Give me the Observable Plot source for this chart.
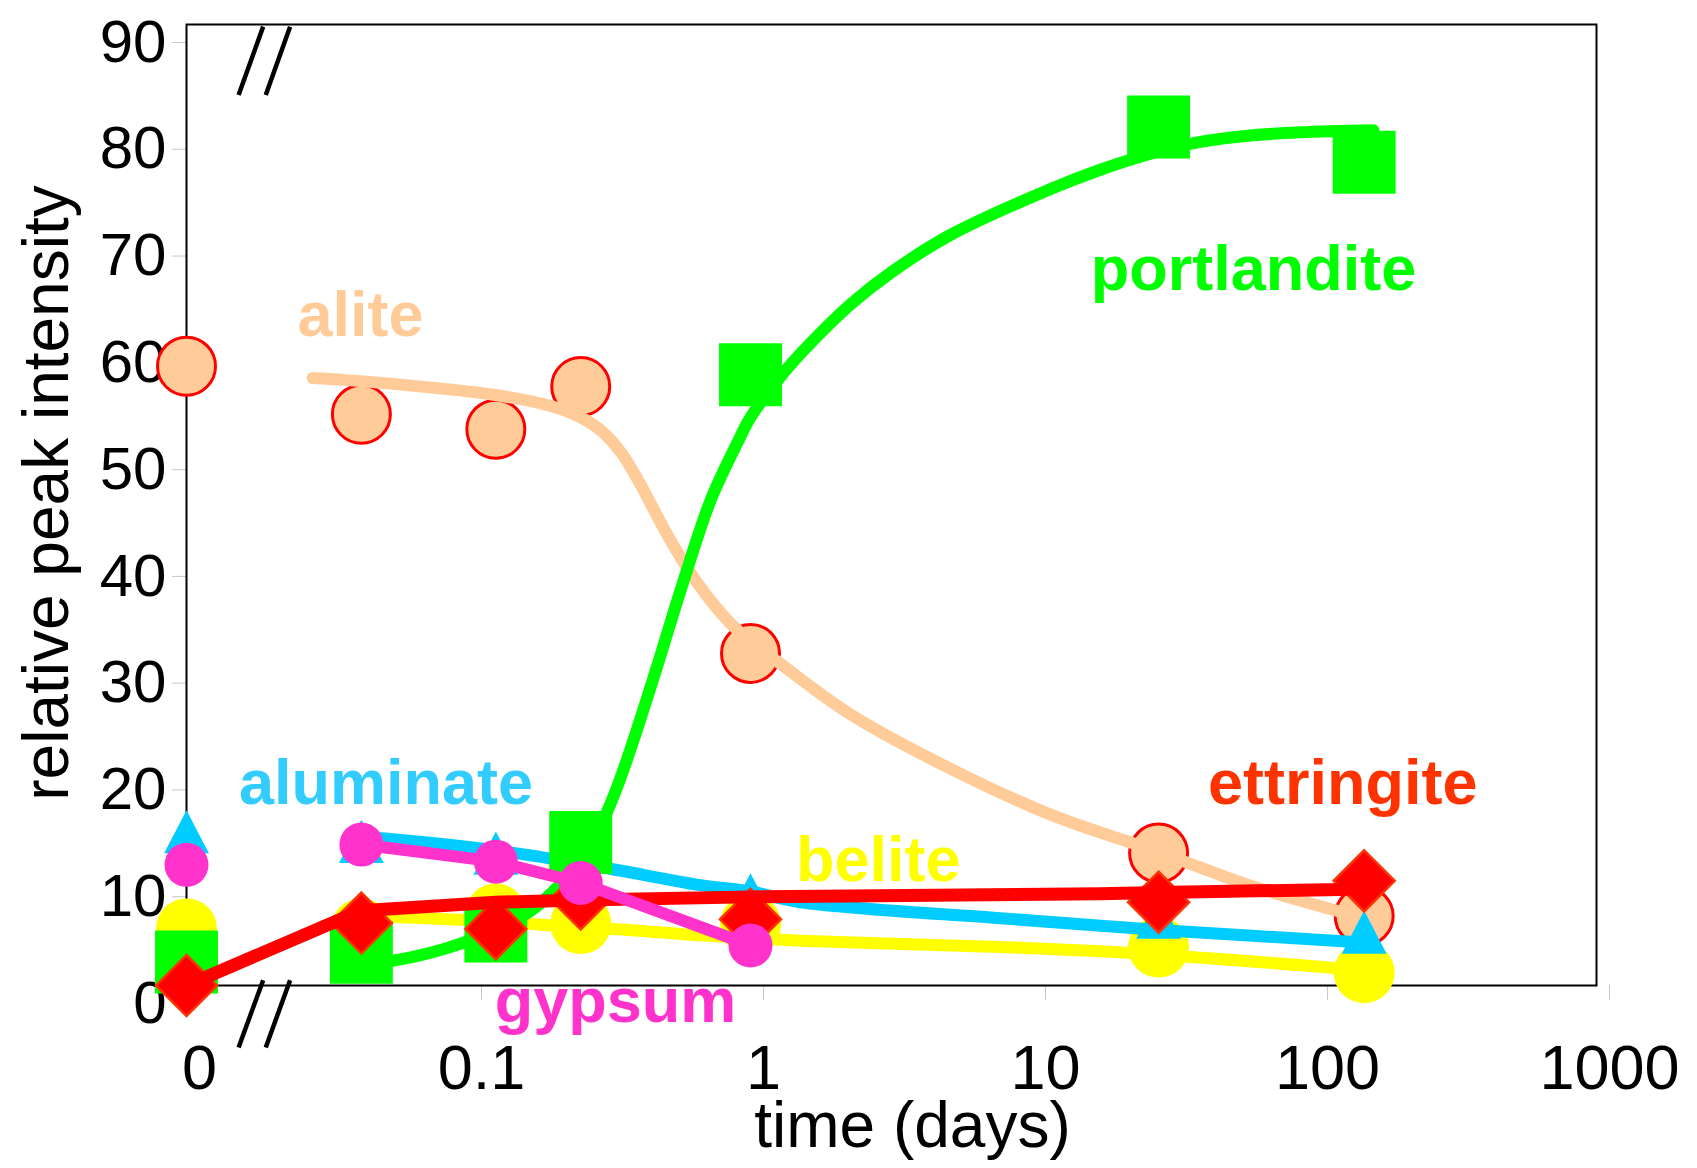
<!DOCTYPE html>
<html><head><meta charset="utf-8">
<script src="https://cdn.jsdelivr.net/npm/d3@7"></script>
<script src="https://cdn.jsdelivr.net/npm/@observablehq/plot@0.6"></script>
<style>html,body{margin:0;padding:0;background:#fff;} #chart{width:1697px;height:1168px;}</style>
</head><body><div id="chart"></div>
<script>
// ---------- data (time in days; 0 is drawn at the broken-axis origin) ----------
const sampleTimes = [0, 0.0417, 0.125, 0.25, 1, 28, 150];
const aliteValues       = [58.0, 53.5, 52.1, 56.1, 31.1, 12.4, 6.5];
const portlanditeValues = [2.2, 3.1, 5.1, 13.4, 57.2, 80.4, 77.1];
const aluminateValues   = [14.4, 13.5, 12.4, null, 8.5, 6.4, 5.0];
const beliteValues      = [5.3, 5.3, 6.7, 5.8, 5.7, 3.6, 1.2];
const ettringiteValues  = [0, 5.85, 5.3, 8.1, 6.2, 7.8, 9.8];
const gypsumValues      = [11.3, 13.2, 11.6, 9.6, 3.75, null, null];

// fitted trend curves
const aliteFitTimes  = [0.028, 0.0414, 0.1247, 0.2, 0.25, 0.3, 0.35, 0.4, 0.5, 0.6, 0.7, 0.85, 1.0, 1.25, 2.26, 5.12, 11.6, 28, 60, 150];
const aliteFitValues = [56.9, 56.6, 55.3, 54.2, 53.2, 51.8, 49.8, 47.3, 42.5, 39.0, 36.5, 33.9, 32.2, 30.3, 25.4, 20.3, 16.0, 12.5, 9.3, 6.3];
const portlanditeFitTimes  = [0.0414, 0.0537, 0.0955, 0.162, 0.1995, 0.251, 0.302, 0.339, 0.385, 0.468, 0.565, 0.721, 0.897, 1.0, 1.276, 1.585, 2.265, 3.16, 5.12, 11.6, 17.4, 26.2, 39.4, 59.3, 89.1, 161.8];
const portlanditeFitValues = [2.0, 2.3, 4.0, 6.8, 8.8, 11.8, 15.6, 18.8, 23.0, 30.0, 37.0, 45.4, 50.8, 53.2, 57.0, 59.8, 63.8, 66.8, 70.3, 74.6, 76.4, 77.9, 79.0, 79.6, 79.9, 80.1];
const aluminateFitTimes  = [0.0414, 0.0538, 0.1298, 0.2938, 0.6653, 1.0, 1.504, 7.7, 17.43, 28, 134, 150];
const aluminateFitValues = [13.9, 13.7, 12.6, 11.1, 9.4, 8.8, 7.8, 6.3, 5.6, 5.2, 4.1, 4.0];
const beliteFitTimes  = [0.0414, 0.0574, 0.1619, 0.2, 0.3268, 0.6653, 1.504, 7.7, 17.43, 123.6, 150];
const beliteFitValues = [6.5, 6.4, 5.8, 5.6, 5.3, 4.7, 4.2, 3.6, 3.2, 1.6, 1.4];
const ettringiteFitTimes  = [0, 0.0414, 0.1247, 0.2535, 1.0, 17.43, 28, 123.6, 150];
const ettringiteFitValues = [0, 7.0, 7.8, 8.0, 8.3, 8.6, 8.7, 9.0, 9.1];

// axes
const xTicks = [0, 0.1, 1, 10, 100, 1000];
const xTickLabels = ["0", "0.1", "1", "10", "100", "1000"];
const yTicks = [0, 10, 20, 30, 40, 50, 60, 70, 80, 90];

// series labels
const seriesNames  = ["alite", "portlandite", "aluminate", "belite", "ettringite", "gypsum"];
const seriesColors = ["#FFCC99", "#00FF00", "#33CCFF", "#FFFF00", "#FF3300", "#FF33CC"];
const labelTimes  = [0.0414, 60.8, 0.051, 2.84, 126, 0.332];
const labelValues = [62.7, 67.0, 18.9, 11.7, 18.9, -1.5];

// axis-break marks "//" (data units)
const breakX1 = [0.0153, 0.0191, 0.0153, 0.0191];
const breakX2 = [0.0187, 0.0233, 0.0187, 0.0233];
const breakY1 = [83.4, 83.4, -5.8, -5.8];
const breakY2 = [89.8, 89.8, 0.5, 0.5];

// ---------- helpers ----------
const ORIGIN = 0.01; // where "0" sits on the log axis
const pos = t => (t === 0 ? ORIGIN : t);
const pts = vals => sampleTimes.map((t, i) => ({t: pos(t), v: vals[i]})).filter(d => d.v != null);
const fit = (ts, vs) => ts.map((t, i) => ({t: pos(t), v: vs[i]}));

const triangleSym = {
  draw(ctx, size) {
    const h = Math.sqrt(size), w = h * 0.52;
    ctx.moveTo(0, -h / 2); ctx.lineTo(w, h / 2); ctx.lineTo(-w, h / 2); ctx.closePath();
  }
};

const FONT = "'Liberation Sans', Arial, sans-serif";
const LW = 12;

const labelsData = seriesNames.map((n, i) => ({n, c: seriesColors[i], t: labelTimes[i], v: labelValues[i]}));
const breaks = breakX1.map((x, i) => ({x1: x, x2: breakX2[i], y1: breakY1[i], y2: breakY2[i]}));
const xTickPos = xTicks.map(pos);

const chart = Plot.plot({
  width: 1697, height: 1168,
  marginLeft: 186, marginRight: 101, marginTop: 24, marginBottom: 183,
  style: {fontFamily: FONT, background: "white", overflow: "visible"},
  x: {type: "log", domain: [ORIGIN, 1000]},
  y: {domain: [0, 90]},
  marks: [
    Plot.axisX({ticks: xTickPos, tickFormat: (d) => xTickLabels[xTickPos.indexOf(d)],
      tickSize: 15, tickPadding: 44, fontSize: 63, fontFamily: FONT, stroke: "#c8c8c8", fill: "black", dx: 13, label: null}),
    Plot.axisY({ticks: yTicks, tickSize: 14, tickPadding: 6, fontSize: 60, fontFamily: FONT,
      stroke: "#c8c8c8", fill: "black", dy: 18, label: null}),
    Plot.frame({stroke: "black", strokeWidth: 2}),
    Plot.link(breaks, {x1: "x1", x2: "x2", y1: "y1", y2: "y2", stroke: "black", strokeWidth: 4.5}),

    // alite
    Plot.dot(pts(aliteValues), {x: "t", y: "v", r: 29, fill: "#FFCC99", stroke: "#FF0000", strokeWidth: 3}),
    Plot.line(fit(aliteFitTimes, aliteFitValues), {x: "t", y: "v", stroke: "#FFCC99", strokeWidth: LW, curve: "catmull-rom"}),
    // belite
    Plot.dot(pts(beliteValues), {x: "t", y: "v", r: 30.5, fill: "#FFFF00"}),
    Plot.line(fit(beliteFitTimes, beliteFitValues), {x: "t", y: "v", stroke: "#FFFF00", strokeWidth: LW, curve: "catmull-rom"}),
    // aluminate
    Plot.dot(pts(aluminateValues), {x: "t", y: "v", r: 24.3, symbol: triangleSym, fill: "#00CCFF"}),
    Plot.line(fit(aluminateFitTimes, aluminateFitValues), {x: "t", y: "v", stroke: "#00CCFF", strokeWidth: LW, curve: "catmull-rom"}),
    // portlandite
    Plot.dot(pts(portlanditeValues), {x: "t", y: "v", r: 35.5, symbol: "square", fill: "#00FF00"}),
    Plot.line(fit(portlanditeFitTimes, portlanditeFitValues), {x: "t", y: "v", stroke: "#00FF00", strokeWidth: LW, curve: "catmull-rom"}),
    // ettringite
    Plot.dot(pts(ettringiteValues), {x: "t", y: "v", r: 27.5, symbol: "diamond2", fill: "#FF0000", stroke: "#FF3300", strokeWidth: 2.5}),
    Plot.line(fit(ettringiteFitTimes, ettringiteFitValues), {x: "t", y: "v", stroke: "#FF0000", strokeWidth: 13, curve: "linear"}),
    // gypsum
    Plot.line(pts(gypsumValues).slice(1), {x: "t", y: "v", stroke: "#FF33CC", strokeWidth: LW, curve: "linear"}),
    Plot.dot(pts(gypsumValues), {x: "t", y: "v", r: 22, fill: "#FF33CC"}),

    // series labels
    Plot.text(labelsData, {x: "t", y: "v", text: "n", fill: "c", fontSize: 63, fontWeight: "bold", fontFamily: FONT}),

    // axis titles
    Plot.text(["relative peak intensity"], {frameAnchor: "left", textAnchor: "middle", lineAnchor: "middle", dx: -139, dy: -12, rotate: -90, fontSize: 64, fontFamily: FONT, fill: "black"}),
    Plot.text(["time (days)"], {frameAnchor: "bottom", textAnchor: "middle", lineAnchor: "bottom", dx: 21, dy: 161, fontSize: 64, fontFamily: FONT, fill: "black"})
  ]
});
document.getElementById("chart").appendChild(chart);
</script>
</body></html>
